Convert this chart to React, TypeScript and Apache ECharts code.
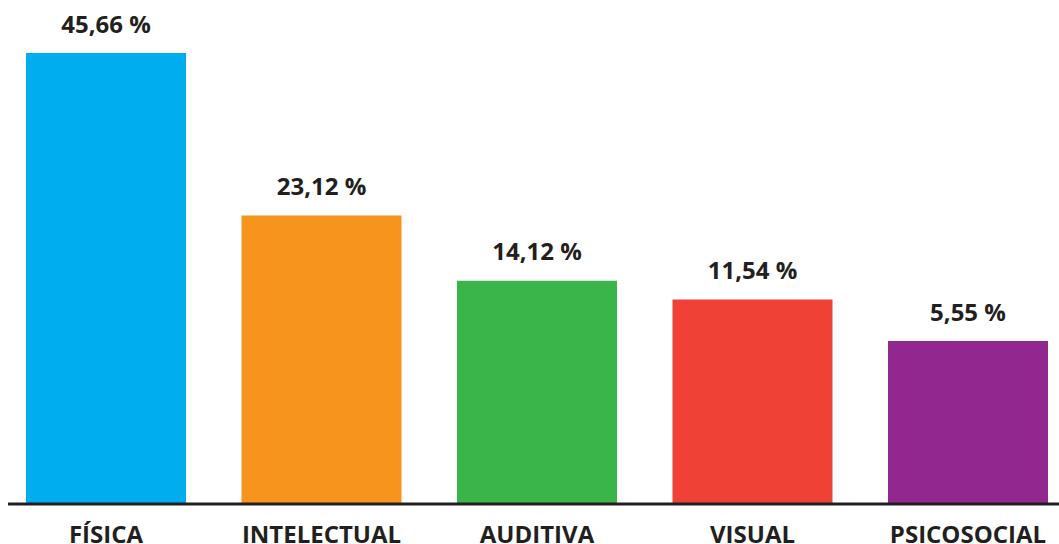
import React, { useEffect, useRef } from "react";
import * as echarts from "echarts";

// Categories and the percentages printed above each bar
const categories = ["FÍSICA", "INTELECTUAL", "AUDITIVA", "VISUAL", "PSICOSOCIAL"];
const percentages = [45.66, 23.12, 14.12, 11.54, 5.55];
// The reference infographic does not draw its bars in proportion to the printed
// percentages; these are the bar lengths (same units,
// FÍSICA = 45.66).
const barLengths = [45.66, 29.2, 22.6, 20.7, 16.5];
const barColors = ["#00AEEF", "#F7941D", "#39B54A", "#EF4136", "#92278F"];

const TEXT = "#231F20";
const FONT = "'Open Sans', 'Noto Sans', sans-serif";

function fmt(v: number): string {
  return v.toFixed(2).replace(".", ",") + " %";
}

export default function App() {
  const ref = useRef<HTMLDivElement>(null);

  useEffect(() => {
    if (!ref.current) return;
    const chart = echarts.init(ref.current, undefined, { renderer: "svg" });
    chart.setOption({
      animation: false,
      backgroundColor: "#ffffff",
      grid: {
        left: -1.75,
        width: 1077.5,
        top: 53,
        bottom: 40,
        containLabel: false,
        outerBoundsMode: "none",
      },
      xAxis: {
        type: "category",
        data: categories,
        axisLine: { show: false },
        axisTick: { show: false },
        axisLabel: {
          interval: 0,
          color: TEXT,
          fontFamily: FONT,
          fontWeight: "bold",
          fontSize: 24,
          margin: 17,
        },
      },
      yAxis: {
        type: "value",
        min: 0,
        max: "dataMax",
        show: false,
        splitLine: { show: false },
      },
      series: [
        {
          type: "bar",
          barWidth: 160,
          data: barLengths.map((v, i) => ({
            value: v,
            itemStyle: { color: barColors[i] },
            label: { formatter: fmt(percentages[i]) },
          })),
          label: {
            show: true,
            position: "top",
            distance: 18,
            color: TEXT,
            fontFamily: FONT,
            fontWeight: "bold",
            fontSize: 24,
          },
        },
      ],
      graphic: [
        {
          type: "line",
          shape: { x1: 8, y1: 504, x2: 1059, y2: 504 },
          style: { stroke: TEXT, lineWidth: 3 },
          z: 100,
        },
      ],
    });
    return () => chart.dispose();
  }, []);

  return (
    <div
      ref={ref}
      style={{ position: "fixed", left: 0, top: 0, width: 1059, height: 544, background: "#fff" }}
    />
  );
}
